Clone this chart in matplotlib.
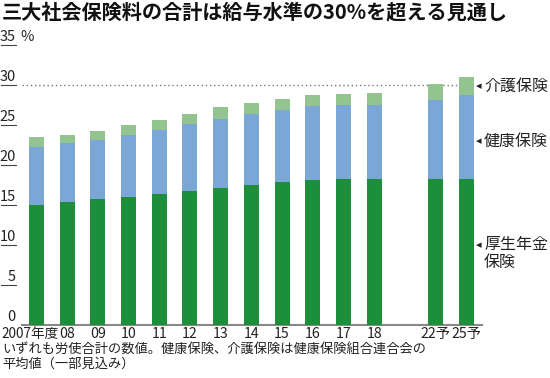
import numpy as np
import matplotlib.pyplot as plt
from matplotlib.lines import Line2D
from matplotlib.transforms import blended_transform_factory

plt.rcParams['font.family'] = ['Noto Sans CJK JP', 'DejaVu Sans']

# data (% of salary)
years = ['2007年度', '08', '09', '10', '11', '12', '13', '14', '15', '16', '17', '18', '22予', '25予']
positions = [0, 1, 2, 3, 4, 5, 6, 7, 8, 9, 10, 11, 13, 14]
pension = [14.996, 15.35, 15.704, 16.058, 16.412, 16.766, 17.12, 17.474, 17.828, 18.182, 18.3, 18.3, 18.3, 18.3]
health = [7.3, 7.4, 7.45, 7.7, 8.0, 8.35, 8.6, 8.9, 9.0, 9.15, 9.2, 9.2, 9.8, 10.4]
care = [1.2, 1.05, 1.1, 1.2, 1.2, 1.3, 1.5, 1.35, 1.45, 1.4, 1.4, 1.45, 2.0, 2.3]
yticks = [0, 5, 10, 15, 20, 25, 30, 35]

c_pension = '#1d8f3a'
c_health = '#7ba7d7'
c_care = '#93c48f'

W, H = 550, 378
fig = plt.figure(figsize=(5.5, 3.78), dpi=100)


def fx(px):
    return px / W


def fy(py):
    return 1 - py / H


# axes: x from px 22 to 482, y 0 at px 325, 35 at px 45
ax = fig.add_axes([fx(22), fy(325), fx(482) - fx(22), fy(45) - fy(325)])
ax.set_xlim(-0.47, 14.51)
ax.set_ylim(0, 35)

pension = np.array(pension)
health = np.array(health)
care = np.array(care)
w = 0.49
ax.bar(positions, pension, width=w, color=c_pension, zorder=3)
ax.bar(positions, health, width=w, bottom=pension, color=c_health, zorder=3)
ax.bar(positions, care, width=w, bottom=pension + health, color=c_care, zorder=3)

ax.plot([-0.47, 14], [30, 30], ls=(0, (1, 2)), color='#777777', lw=1.0, zorder=1)

for s in ['top', 'right', 'left']:
    ax.spines[s].set_visible(False)
ax.spines['bottom'].set_color('#888888')
ax.spines['bottom'].set_linewidth(1.5)
ax.set_xticks([])
ax.set_yticks([])

# y tick labels with short underlines
for v in yticks:
    py = 325 - 8 * v
    fig.text(fx(16), fy(py - 1), str(v), ha='right', va='bottom', fontsize=10.5, color='#222222')
    if v > 0:
        fig.add_artist(Line2D([fx(1), fx(16)], [fy(py), fy(py)], color='#444444', lw=0.8))
fig.text(fx(20), fy(44), '%', ha='left', va='bottom', fontsize=10.5, color='#222222')

# x labels
xtrans = blended_transform_factory(ax.transData, fig.transFigure)
for p, lab in zip(positions, years):
    if p == 0:
        fig.text(fx(1), fy(334), lab, ha='left', va='center', fontsize=9.8, color='#222222')
    else:
        ax.text(p, fy(334), lab, transform=xtrans, ha='center', va='center',
                fontsize=10.2, color='#222222')

# series labels on the right
def arrow(py):
    fig.text(fx(476), fy(py), '◂', ha='left', va='center', fontsize=8,
             family=['DejaVu Sans'], color='#222222')


arrow(86)
fig.text(fx(484), fy(86), '介護保険', ha='left', va='center', fontsize=11.5, color='#222222')
arrow(141)
fig.text(fx(484), fy(141), '健康保険', ha='left', va='center', fontsize=11.5, color='#222222')
arrow(245)
fig.text(fx(484), fy(236), '厚生年金\n保険', ha='left', va='top', fontsize=11.5,
         color='#222222', linespacing=1.05)

fig.text(fx(2), fy(12), '三大社会保険料の合計は給与水準の30%を超える見通し', ha='left', va='center',
         fontsize=14.5, fontweight='bold', color='#111111')

fig.text(fx(2), fy(349), 'いずれも労使合計の数値。健康保険、介護保険は健康保険組合連合会の',
         ha='left', va='center', fontsize=9.5, color='#222222')
fig.text(fx(2), fy(364), '平均値（一部見込み）', ha='left', va='center', fontsize=9.5, color='#222222')

fig.savefig('out.png', dpi=100)
